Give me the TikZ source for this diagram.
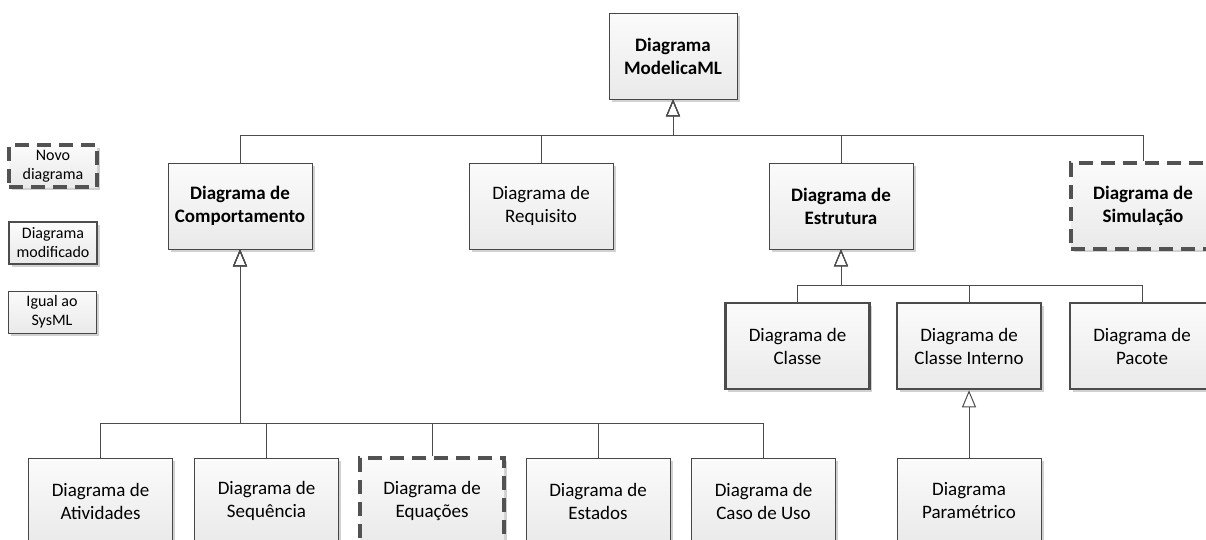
\documentclass[tikz,border=0pt]{standalone}
\usepackage{fontspec}
\setmainfont{Carlito}
\usetikzlibrary{arrows.meta,shadows}
\begin{document}
\begin{tikzpicture}[x=1pt,y=-1pt,
  box/.style={draw=black!72, line width=0.9pt, minimum width=144pt, minimum height=86pt,
    align=center, inner sep=0pt, font=\fontsize{19}{23}\selectfont,
    top color=gray!3, bottom color=gray!17,
    drop shadow={shadow xshift=2.5pt, shadow yshift=-2.5pt, opacity=0.3, fill=black!60}},
  modbox/.style={box, line width=2.6pt, draw=black!70},
  newbox/.style={box, line width=3.3pt, draw=black!68, dash pattern=on 14pt off 8pt},
  legend/.style={minimum width=88pt, minimum height=42pt, font=\fontsize{16}{19}\selectfont},
  title/.style={font=\fontsize{19}{23}\selectfont\bfseries},
  gen/.style={draw=black!70, line width=1pt, -{Triangle[open,length=17pt,width=14pt]}}
]
\useasboundingbox (0,0) rectangle (1206,539);
\clip (0,0) rectangle (1206,539);

% top
\node[box, title, minimum width=128pt] (top) at (673,56) {Diagrama\\ModelicaML};

% level 1
\node[box, title] (comp) at (240,206) {Diagrama de\\Comportamento};
\node[box] (req) at (541,206) {Diagrama de\\Requisito};
\node[box, title] (estr) at (841,206) {Diagrama de\\Estrutura};
\node[newbox, title] (sim) at (1143,206) {Diagrama de\\Simulação};

% structure children
\node[modbox] (classe) at (797.5,346) {Diagrama de\\Classe};
\node[modbox] (cint) at (969,346) {Diagrama de\\Classe Interno};
\node[modbox] (pacote) at (1142,346) {Diagrama de\\Pacote};

% bottom row
\node[box] (ativ) at (100.5,501) {Diagrama de\\Atividades};
\node[box] (seq) at (266.5,501) {Diagrama de\\Sequência};
\node[newbox] (equ) at (432,501) {Diagrama de\\Equações};
\node[box] (est) at (598,501) {Diagrama de\\Estados};
\node[box] (caso) at (763.5,501) {Diagrama de\\Caso de Uso};
\node[box] (param) at (969,501) {Diagrama\\Paramétrico};

% legend
\node[newbox, legend] (lnovo) at (53,166) {Novo\\diagrama};
\node[modbox, legend] (lmod) at (53,243) {Diagrama\\modificado};
\node[box, legend] (ligual) at (52,312) {Igual ao\\SysML};

% connectors
\coordinate (j1) at (673,135);
\foreach \n in {comp,req,estr,sim}
  \draw[gen] (\n.north) |- (j1) -- (top.south);

\coordinate (j2) at (240,423);
\foreach \n in {ativ,seq,equ,est,caso}
  \draw[gen] (\n.north) |- (j2) -- (comp.south);

\coordinate (j3) at (841,285);
\foreach \n in {classe,cint,pacote}
  \draw[gen] (\n.north) |- (j3) -- (estr.south);

\draw[gen] (param.north) -- (cint.south);
\end{tikzpicture}
\end{document}
